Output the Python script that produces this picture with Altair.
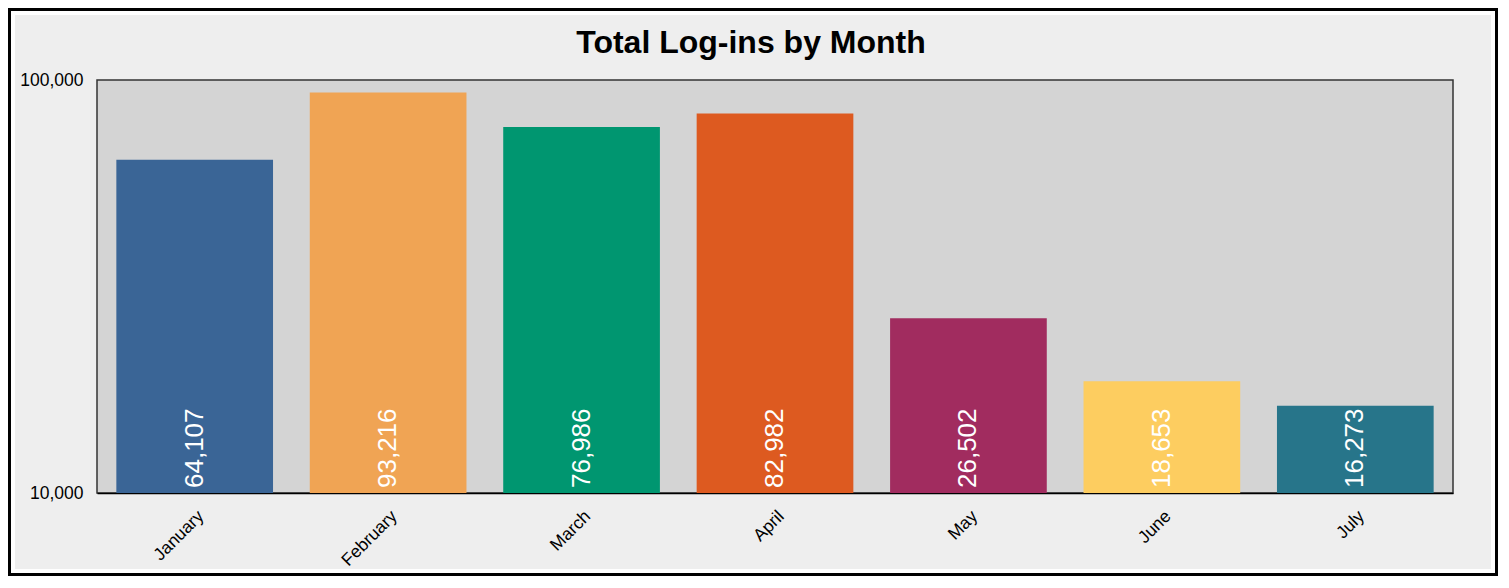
import altair as alt
import pandas as pd

months = ["January", "February", "March", "April", "May", "June", "July"]
logins = [64107, 93216, 76986, 82982, 26502, 18653, 16273]
colors = ["#3a6596", "#f0a454", "#009670", "#dd5a20", "#a12c5f", "#fdcd60", "#27758a"]
title_text = "Total Log-ins by Month"

df = pd.DataFrame({"month": months, "logins": logins})

W, H = 1356, 413
PL, PT, PR, PB = 89, 72, 45, 83

x = alt.X("month:N", sort=months, title=None,
          scale=alt.Scale(paddingInner=0.19, paddingOuter=0.1),
          axis=alt.Axis(labelAngle=-45, labelFontSize=17.5, labelColor="#000000",
                        ticks=False, domainColor="#000000", domainWidth=1.5,
                        labelPadding=14, labelFont="Liberation Sans"))
y = alt.Y("logins:Q", title=None,
          scale=alt.Scale(type="log", domain=[10000, 100000], nice=False),
          axis=alt.Axis(values=[10000, 100000], format=",", grid=False, ticks=False,
                        domain=False, labelFontSize=17.5, labelColor="#000000",
                        labelPadding=14, labelFont="Liberation Sans"))

bars = alt.Chart(df).mark_bar().encode(
    x=x, y=y,
    y2=alt.datum(10000),
    color=alt.Color("month:N", sort=months, scale=alt.Scale(domain=months, range=colors), legend=None),
)

labels = alt.Chart(df).mark_text(
    angle=270, align="left", baseline="middle", dx=5, fontSize=26,
    color="white", font="Liberation Sans"
).encode(
    x=alt.X("month:N", sort=months),
    y=alt.datum(10000),
    text=alt.Text("logins:Q", format=","),
)

frame_df = pd.DataFrame({"k": ["frame"]})
frame_black = alt.Chart(frame_df).mark_rect(
    fillOpacity=0, stroke="#000000", strokeWidth=3
).encode(
    x=alt.value(-PL + 1.5), x2=alt.value(W + PR - 1.5),
    y=alt.value(-PT + 1.5), y2=alt.value(H + PB - 1.5),
)
frame_white = alt.Chart(frame_df).mark_rect(
    fillOpacity=0, stroke="#ffffff", strokeWidth=4
).encode(
    x=alt.value(-PL + 5), x2=alt.value(W + PR - 5),
    y=alt.value(-PT + 5), y2=alt.value(H + PB - 5),
)

title_df = pd.DataFrame({"t": [title_text]})
title = alt.Chart(title_df).mark_text(
    fontSize=32, font="Liberation Sans", fontWeight="bold", color="#000000",
    align="center", baseline="alphabetic"
).encode(
    text="t:N",
    x=alt.value(W / 2 - 24), y=alt.value(-27),
)

chart = alt.layer(frame_white, frame_black, bars, labels, title).properties(
    width=W, height=H,
    padding={"left": PL, "top": PT, "right": PR, "bottom": PB},
    autosize=alt.AutoSizeParams(type="none"),
    background="#eeeeee",
).configure_view(
    fill="#d4d4d4", stroke="#333333", strokeWidth=1.5
)

chart.save("out.html", embed_options={"renderer": "svg", "actions": False})
